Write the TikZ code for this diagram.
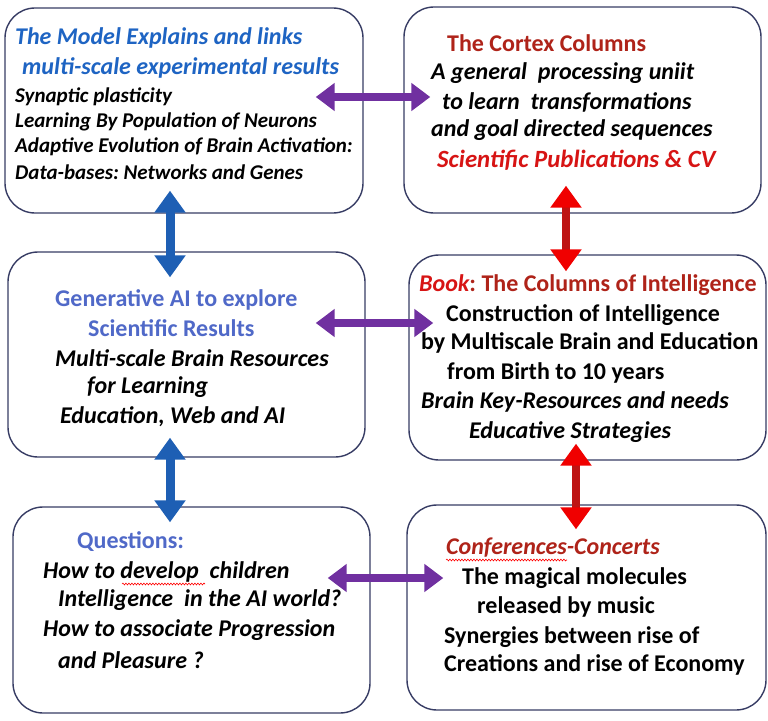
\documentclass[tikz,border=0pt]{standalone}
\usepackage{fontspec}
\setmainfont{Carlito}
\frenchspacing
\usetikzlibrary{arrows.meta,decorations.pathmorphing}
\definecolor{boxline}{RGB}{55,60,100}
\definecolor{titleblue}{RGB}{30,100,195}
\definecolor{slateblue}{RGB}{80,105,200}
\definecolor{darkred}{RGB}{175,35,25}
\definecolor{brightred}{RGB}{215,20,20}
\definecolor{purp}{RGB}{112,48,160}
\definecolor{arrblue}{RGB}{30,95,180}
\definecolor{arrred}{RGB}{240,0,0}
\definecolor{shaftred}{RGB}{190,20,20}
\newcommand{\fbig}{\fontsize{24bp}{28bp}\selectfont}
\newcommand{\fmid}{\fontsize{24bp}{28bp}\selectfont}
\newcommand{\fsml}{\fontsize{21bp}{25bp}\selectfont}
\begin{document}
\begin{tikzpicture}[x=1bp,y=-1bp,
  box/.style={draw=boxline, line width=1.4bp, rounded corners=30bp, inner sep=0pt, fill=white},
  tx/.style={anchor=west, inner sep=0pt, font=\bfseries},
  txi/.style={anchor=west, inner sep=0pt, font=\bfseries\itshape},
  parrow/.style={draw=purp, line width=8bp, {Triangle[width=27bp,length=19bp]}-{Triangle[width=27bp,length=19bp]}},
  barrow/.style={draw=arrblue, line width=9bp, {Triangle[width=30bp,length=22bp]}-{Triangle[width=30bp,length=22bp]}},
  rarrow/.style={draw=shaftred, line width=8bp, {Triangle[width=30bp,length=22bp,color=arrred]}-{Triangle[width=30bp,length=22bp,color=arrred]}},
  wavy/.style={draw=red, line width=0.6bp, decorate, decoration={snake, amplitude=0.9bp, segment length=3bp}}
]
\useasboundingbox (0,0) rectangle (768,721);
% boxes
\node[box, minimum width=358bp, minimum height=205bp] (tl) at (184,110.5) {};
\node[box, minimum width=357bp, minimum height=206bp] (tr) at (582.5,110) {};
\node[box, minimum width=357bp, minimum height=205bp] (ml) at (186.5,354.5) {};
\node[box, minimum width=357bp, minimum height=205bp] (mr) at (587.5,357.5) {};
\node[box, minimum width=357bp, minimum height=206bp] (bl) at (191.5,610) {};
\node[box, minimum width=359bp, minimum height=205bp] (br) at (586.5,607.5) {};

% top-left text
\node[txi, text=titleblue, font=\bfseries\itshape\fbig] (tl1) at (15,38) {The Model Explains and links};
\node[txi, text=titleblue, font=\bfseries\itshape\fbig] (tl2) at (22,68) {multi-scale experimental results};
\node[txi, font=\bfseries\itshape\fsml] (tl3) at (15,97) {Synaptic plasticity};
\node[txi, font=\bfseries\itshape\fsml] (tl4) at (15,122) {Learning By Population of Neurons};
\node[txi, font=\bfseries\itshape\fsml] (tl5) at (15,147) {Adaptive Evolution of Brain Activation:};
\node[txi, font=\bfseries\itshape\fsml] (tl6) at (15,172) {Data-bases: Networks and Genes};

% top-right text
\node[tx, text=darkred, font=\bfseries\fmid] (tr1) at (447,43) {The Cortex Columns};
\node[txi, font=\bfseries\itshape\fmid] (tr2) at (431,73) {A general\ \ processing uniit};
\node[txi, font=\bfseries\itshape\fmid] (tr3) at (442,102) {to learn\ \ transformations};
\node[txi, font=\bfseries\itshape\fmid] (tr4) at (431,130) {and goal directed sequences};
\node[txi, text=brightred, font=\bfseries\itshape\fontsize{24.8bp}{28bp}\selectfont] (tr5) at (437,160) {Scientific Publications \& CV};

% middle-left text
\node[tx, text=slateblue, font=\bfseries\fmid] (ml1) at (55,300) {Generative AI to explore};
\node[tx, text=slateblue, font=\bfseries\fmid] (ml2) at (88,328) {Scientific Results};
\node[txi, font=\bfseries\itshape\fmid] (ml3) at (55,358) {Multi-scale Brain Resources};
\node[txi, font=\bfseries\itshape\fmid] (ml4) at (87,387) {for Learning};
\node[txi, font=\bfseries\itshape\fmid] (ml5) at (60,417) {Education, Web and AI};

% middle-right text
\node[tx, text=darkred, font=\bfseries\fmid] (mr1) at (419,285) {\textcolor{brightred}{\itshape Book}: The Columns of Intelligence};
\node[tx, font=\bfseries\fmid] (mr2) at (446,315) {Construction of Intelligence};
\node[tx, font=\bfseries\fmid] (mr3) at (421,343) {by Multiscale Brain and Education};
\node[tx, font=\bfseries\fmid] (mr4) at (447,373) {from Birth to 10 years};
\node[txi, font=\bfseries\itshape\fmid] (mr5) at (421,402) {Brain Key-Resources and needs};
\node[txi, font=\bfseries\itshape\fmid] (mr6) at (469,432) {Educative Strategies};

% bottom-left text
\node[tx, text=slateblue, font=\bfseries\fmid] (bl1) at (77,542) {Questions:};
\node[txi, font=\bfseries\itshape\fmid] (bl2) at (43,572) {How to develop\ \ children};
\node[txi, font=\bfseries\itshape\fmid] (bl3) at (58,600) {Intelligence\ \ in the AI world?};
\node[txi, font=\bfseries\itshape\fmid] (bl4) at (43,630) {How to associate Progression};
\node[txi, font=\bfseries\itshape\fmid] (bl5) at (58,660) {and Pleasure ?};

% bottom-right text
\node[txi, text=darkred, font=\bfseries\itshape\fmid] (br1) at (446,548) {Conferences-Concerts};
\node[tx, font=\bfseries\fmid] (br2) at (462,578) {The magical molecules};
\node[tx, font=\bfseries\fmid] (br3) at (477,607) {released by music};
\node[tx, font=\bfseries\fmid] (br4) at (444,637) {Synergies between rise of};
\node[tx, font=\bfseries\fmid] (br5) at (444,665) {Creations and rise of Economy};

% spell-check underlines
\draw[wavy] (122,584) -- (205,584);
\draw[wavy] (446,560) -- (567,560);

% arrows
\draw[parrow] ([shift={(-48,-13.5)}]tl.east) -- ([shift={(27,-13)}]tr.west);
\draw[parrow] ([shift={(-50,-31.5)}]ml.east) -- ([shift={(25,-34.5)}]mr.west);
\draw[parrow] ([shift={(-43,-32)}]bl.east) -- ([shift={(37,-29.5)}]br.west);
\draw[barrow] ([shift={(-14,-23)}]tl.south) -- ([shift={(-16.5,26)}]ml.north);
\draw[barrow] ([shift={(-16.5,-20)}]ml.south) -- ([shift={(-21.5,16)}]bl.north);
\draw[rarrow] ([shift={(-16.5,-28)}]tr.south) -- ([shift={(-21.5,17)}]mr.north);
\draw[rarrow] ([shift={(-11.5,-17)}]mr.south) -- ([shift={(-10.5,25)}]br.north);
\end{tikzpicture}
\end{document}
